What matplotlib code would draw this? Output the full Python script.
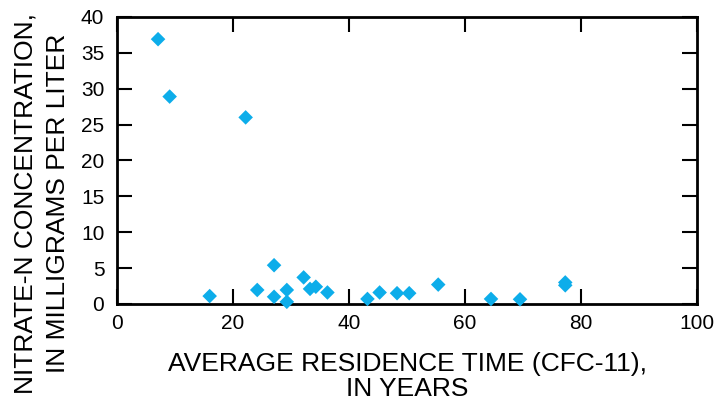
import matplotlib.pyplot as plt

plt.rcParams["font.family"] = ["Liberation Sans", "DejaVu Sans"]

# average residence time (years) and nitrate-N (mg/L)
age = [7.1, 9.1, 22.2, 16.0, 24.2, 27.1, 27.1, 29.3, 29.3, 32.2, 33.3, 34.3,
       36.3, 43.2, 45.3, 48.3, 50.4, 55.4, 64.5, 69.5, 77.3, 77.3]
nitrate = [36.9, 28.9, 26.0, 1.1, 1.95, 5.4, 1.0, 1.95, 0.3, 3.7, 2.1, 2.4,
           1.6, 0.7, 1.6, 1.5, 1.5, 2.7, 0.7, 0.65, 2.6, 3.0]

xlabel_lines = ["AVERAGE RESIDENCE TIME (CFC-11),", "IN YEARS"]
ylabel_lines = ["NITRATE-N CONCENTRATION,", "IN MILLIGRAMS PER LITER"]

fig = plt.figure(figsize=(7.17, 4.13), dpi=100)
ax = fig.add_axes([0.163, 0.264, 0.809, 0.695])

ax.scatter(age, nitrate, marker="D", s=55, color="#0DADEA", edgecolors="none",
           zorder=3, clip_on=False)

ax.set_xlim(0, 100)
ax.set_ylim(0, 40)
ax.set_xticks(range(0, 101, 20))
ax.set_yticks(range(0, 41, 5))
ax.tick_params(direction="in", top=True, right=True, length=11, width=1.5,
               labelsize=15)
ax.tick_params(axis="x", pad=7)
ax.tick_params(axis="y", pad=9)
for s in ax.spines.values():
    s.set_linewidth(2)

# axis titles, placed line by line
fig.text(0.568, 0.1005, xlabel_lines[0], fontsize=19, ha="center", va="baseline")
fig.text(0.568, 0.040, xlabel_lines[1], fontsize=19, ha="center", va="baseline")
fig.text(0.046, 0.508, ylabel_lines[0], fontsize=19, rotation=90,
         rotation_mode="anchor", ha="center", va="baseline")
fig.text(0.0907, 0.508, ylabel_lines[1], fontsize=19, rotation=90,
         rotation_mode="anchor", ha="center", va="baseline")

fig.savefig("out.png", dpi=100)
